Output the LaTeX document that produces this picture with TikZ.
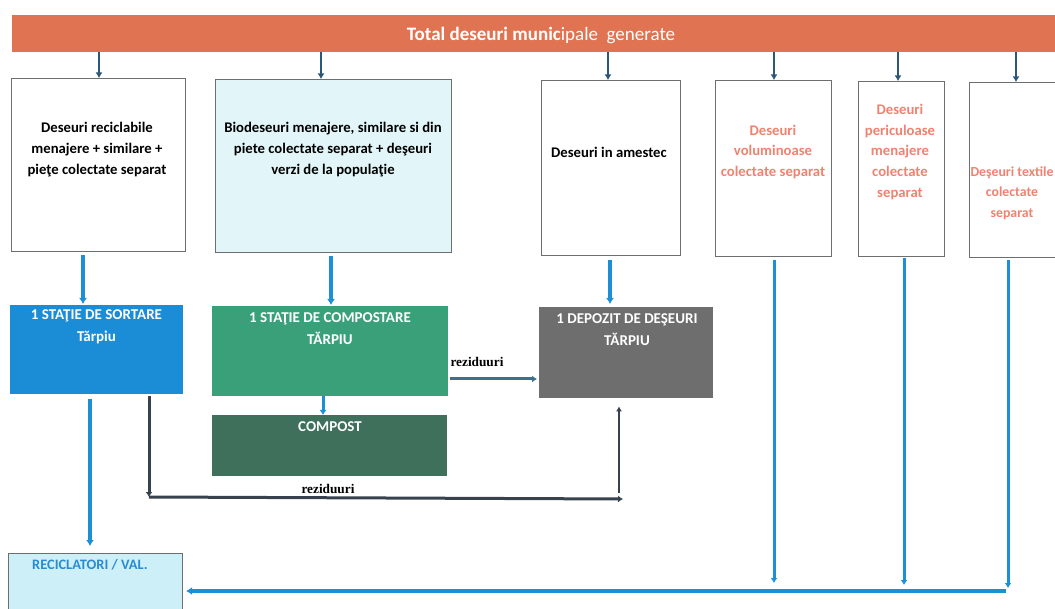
\documentclass[tikz,border=0pt]{standalone}
\usepackage{fontspec}
\setmainfont{Carlito}
\newfontfamily\serifA{Liberation Serif}
\usetikzlibrary{arrows.meta}
\definecolor{barorange}{RGB}{224,116,82}
\definecolor{boxline}{RGB}{110,110,110}
\definecolor{lightcyan}{RGB}{226,246,250}
\definecolor{reccyan}{RGB}{205,240,248}
\definecolor{salmon}{RGB}{240,130,112}
\definecolor{sortblue}{RGB}{27,140,214}
\definecolor{compgreen}{RGB}{58,160,122}
\definecolor{compdark}{RGB}{62,112,92}
\definecolor{depgray}{RGB}{110,110,110}
\definecolor{arrblue}{RGB}{28,144,214}
\definecolor{toparrcol}{RGB}{44,88,120}
\definecolor{rezcol}{RGB}{62,112,140}
\definecolor{darkpath}{RGB}{55,66,78}
\definecolor{recictext}{RGB}{42,139,208}
\begin{document}
\begin{tikzpicture}[x=1pt,y=-1pt,
  wbox/.style={draw=boxline, line width=1.1pt, fill=white, anchor=north west, inner sep=0pt},
  sbox/.style={draw=none, anchor=north west, inner sep=0pt},
  btxt/.style={align=center, font=\bfseries\fontsize{14.7}{21}\selectfont, text=black},
  stxt/.style={align=center, font=\bfseries\fontsize{14.7}{20.7}\selectfont, text=salmon},
  wtxt/.style={align=center, font=\bfseries\fontsize{15}{22}\selectfont, text=white},
  toparr/.style={draw=toparrcol, line width=2.6pt, -{Latex[length=5.5pt,width=7pt]}},
  bluearr/.style={draw=arrblue, line width=4pt, -{Latex[length=6pt,width=8pt]}},
  bluethin/.style={draw=arrblue, line width=3pt, -{Latex[length=5pt,width=7pt]}},
  rezarr/.style={draw=rezcol, line width=3pt, -{Latex[length=5pt,width=7pt]}},
  darkarr/.style={draw=darkpath, line width=3pt, -{Latex[length=5pt,width=7pt]}},
  darkthin/.style={draw=darkpath, line width=2pt, -{Latex[length=5pt,width=6pt]}},
  reztxt/.style={font=\serifA\bfseries\fontsize{13.3}{15}\selectfont, text=black}
]
\useasboundingbox (0,0) rectangle (1055,609);
\fill[white] (0,0) rectangle (1055,609);

% top bar
\node[sbox, fill=barorange, minimum width=1045, minimum height=37] (bar) at (12,15) {};
\node[font=\fontsize{19}{22}\selectfont, text=white] (title) at (541,35) {\textbf{Total deseuri munic}ipale\ \ generate};

% first row boxes
\node[wbox, minimum width=174, minimum height=173] (a) at (11,78) {};
\node[wbox, fill=lightcyan, minimum width=236, minimum height=173] (b) at (215,79) {};
\node[wbox, minimum width=139, minimum height=175] (c) at (541,80) {};
\node[wbox, minimum width=116, minimum height=176] (d) at (715,80) {};
\node[wbox, minimum width=86, minimum height=175] (e) at (858,81) {};
\node[wbox, minimum width=110, minimum height=175] (f) at (969,82) {};

\node[btxt] (ta) at (97,150) {Deseuri reciclabile\\menajere + similare +\\pieţe colectate separat};
\node[btxt] (tb) at (333,150) {Biodeseuri menajere, similare si din\\piete colectate separat + deşeuri\\verzi de la populaţie};
\node[btxt] (tc) at (609,152) {Deseuri in amestec};
\node[stxt] (td) at (773,152) {Deseuri\\voluminoase\\colectate separat};
\node[stxt] (te) at (900,152) {Deseuri\\periculoase\\menajere\\colectate\\separat};
\node[stxt, font=\bfseries\fontsize{13.8}{20.7}\selectfont] (tf) at (1012,193) {Deşeuri textile\\colectate\\separat};

% stations
\node[sbox, fill=sortblue, minimum width=173, minimum height=89] (sortare) at (10,305) {};
\node[sbox, fill=compgreen, minimum width=236, minimum height=90] (compostare) at (212,306) {};
\node[sbox, fill=compdark, minimum width=235, minimum height=61] (compost) at (212,415) {};
\node[sbox, fill=depgray, minimum width=174, minimum height=91] (depozit) at (539,307) {};
\node[wbox, fill=reccyan, minimum width=174, minimum height=70] (recic) at (8,553) {};

\node[wtxt] (tsort) at (96.5,327) {1 STAŢIE DE SORTARE\\Tărpiu};
\node[wtxt] (tcomp) at (330,328.5) {1 STAŢIE DE COMPOSTARE\\TĂRPIU};
\node[wtxt] (tcompost) at (330,427) {COMPOST};
\node[wtxt] (tdep) at (627,330) {1 DEPOZIT DE DEŞEURI\\TĂRPIU};
\node[font=\bfseries\fontsize{14.4}{16}\selectfont, text=recictext] (trec) at (90,565) {RECICLATORI / VAL.};

% top arrows
\coordinate (xa) at (99,0);
\coordinate (xb) at (321,0);
\coordinate (xc) at (608,0);
\coordinate (xd) at (774,0);
\coordinate (xe) at (898,0);
\coordinate (xf) at (1016,0);
\foreach \n/\x in {a/xa,b/xb,c/xc,d/xd,e/xe,f/xf}{
  \draw[toparr] (bar.south -| \x) -- (\n.north -| \x);
}

% blue arrows to stations
\coordinate (xab) at (83,0);
\coordinate (xbc) at (331,0);
\coordinate (xcd) at (610,0);
\coordinate (xcc) at (323,0);
\coordinate (xsr) at (90,0);
\draw[bluearr, shorten <=3pt, shorten >=1pt] (a.south -| xab) -- (sortare.north -| xab);
\draw[bluearr, shorten <=3pt, shorten >=1pt] (b.south -| xbc) -- (compostare.north -| xbc);
\draw[bluearr, shorten <=4pt, shorten >=3pt] (c.south -| xcd) -- (depozit.north -| xcd);
\draw[bluethin] (compostare.south -| xcc) -- (compost.north -| xcc);
\draw[bluearr, shorten <=5pt, shorten >=7pt] (sortare.south -| xsr) -- (recic.north -| xsr);

% reziduuri from compostare
\coordinate (yr) at (0,379);
\draw[rezarr, shorten <=2pt, shorten >=2pt] (compostare.east |- yr) -- (depozit.west |- yr);
\node[reztxt] (rez1) at (477,362) {reziduuri};

% reziduuri from sortare
\coordinate (c1) at (149,497);
\coordinate (c2) at (623,499);
\coordinate (c3) at (619,493);
\draw[darkarr, shorten <=2pt] (sortare.south -| c1) -- (c1);
\draw[darkarr] (c1) -- (c2);
\draw[darkthin, shorten >=8pt] (c3) -- (depozit.south -| c3);
\node[reztxt] (rez2) at (328,489) {reziduuri};

% right side flows
\coordinate (vd) at (774,583);
\coordinate (ve) at (904,585);
\coordinate (vf) at (1008,588);
\draw[bluethin, shorten <=3pt] (d.south -| vd) -- (vd);
\draw[bluethin, shorten <=1pt] (e.south -| ve) -- (ve);
\draw[bluethin, shorten <=2pt] (f.south -| vf) -- (vf);
\coordinate (hf) at (1006,591);
\draw[bluearr, shorten >=3pt] (hf) -- (recic.east |- hf);
\end{tikzpicture}
\end{document}
